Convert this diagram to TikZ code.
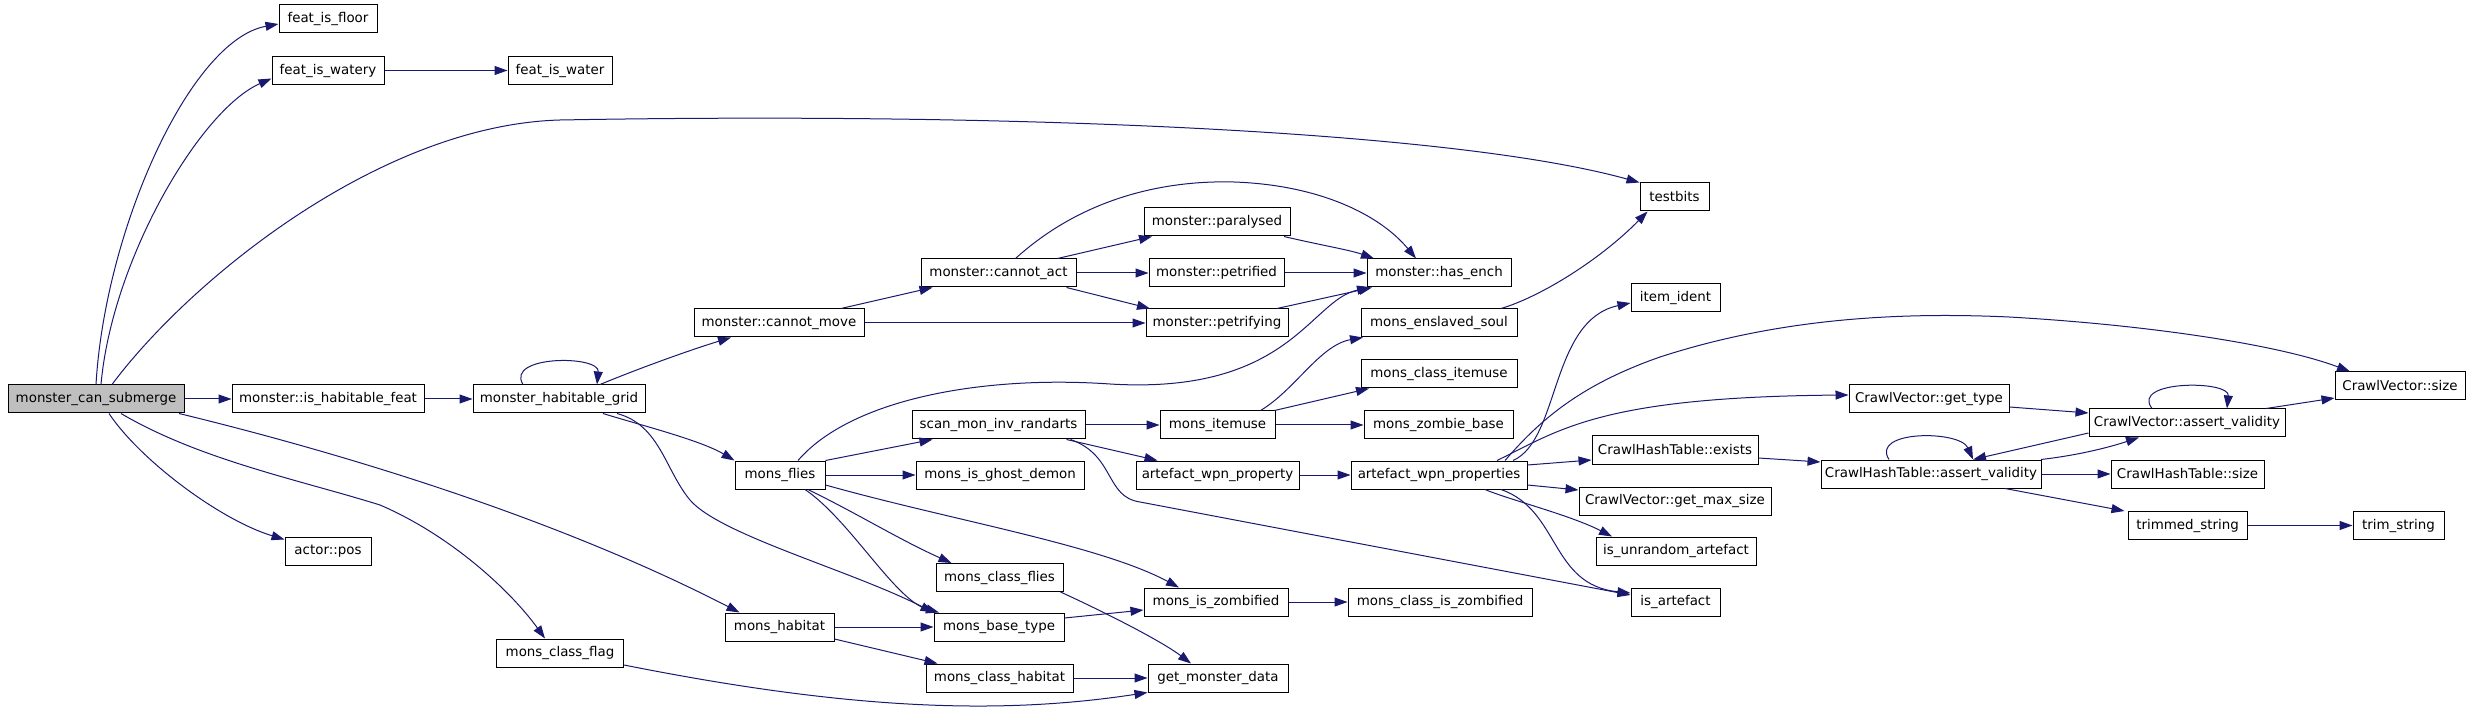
\documentclass[tikz,border=0pt]{standalone}
\usepackage{fontspec}
\usepackage{tikz}
\usetikzlibrary{arrows.meta}
\newfontfamily\graphfont{DejaVu Sans}
\definecolor{edgeblue}{HTML}{191970}
\definecolor{rootgray}{HTML}{BFBFBF}
\tikzset{
  fn/.style={draw=black, line width=1pt, minimum height=28, inner sep=0pt,
    font=\graphfont\fontsize{13.4}{15}\selectfont},
  root/.style={fn, fill=rootgray},
  call/.style={draw=edgeblue, line width=1pt, -{Triangle[length=13pt,width=9pt]}}
}
\begin{document}
\begin{tikzpicture}[x=1pt, y=-1pt]
\useasboundingbox (0,0) rectangle (2469,708);

\node[root, minimum width=176] (mcs) at (96,399) {monster\_can\_submerge};
\node[fn, minimum width=98] (floor) at (328,19) {feat\_is\_floor};
\node[fn, minimum width=112] (watery) at (328,70.5) {feat\_is\_watery};
\node[fn, minimum width=104] (water) at (560,70.5) {feat\_is\_water};
\node[fn, minimum width=192] (ihf) at (328,399) {monster::is\_habitable\_feat};
\node[fn, minimum width=172] (hgrid) at (559,399) {monster\_habitable\_grid};
\node[fn, minimum width=86] (apos) at (328,551) {actor::pos};
\node[fn, minimum width=127] (cflag) at (560,653) {mons\_class\_flag};
\node[fn, minimum width=170] (cmove) at (779,323) {monster::cannot\_move};
\node[fn, minimum width=155] (cact) at (998.5,273) {monster::cannot\_act};
\node[fn, minimum width=146] (para) at (1217,222) {monster::paralysed};
\node[fn, minimum width=135] (ptfd) at (1216.5,273) {monster::petrified};
\node[fn, minimum width=142] (ptfy) at (1217,323) {monster::petrifying};
\node[fn, minimum width=144] (hench) at (1439,273) {monster::has\_ench};
\node[fn, minimum width=173] (scan) at (998.5,425) {scan\_mon\_inv\_randarts};
\node[fn, minimum width=115] (itemuse) at (1217.5,425) {mons\_itemuse};
\node[fn, minimum width=90] (flies) at (780,475) {mons\_flies};
\node[fn, minimum width=168] (ghost) at (1000,475) {mons\_is\_ghost\_demon};
\node[fn, minimum width=163] (awp) at (1217.5,475) {artefact\_wpn\_property};
\node[fn, minimum width=127] (cflies) at (999.5,577.5) {mons\_class\_flies};
\node[fn, minimum width=144] (iszomb) at (1216,602) {mons\_is\_zombified};
\node[fn, minimum width=109] (habitat) at (779.5,627) {mons\_habitat};
\node[fn, minimum width=130] (btype) at (999,627) {mons\_base\_type};
\node[fn, minimum width=147] (chabitat) at (999.5,678) {mons\_class\_habitat};
\node[fn, minimum width=140] (gmd) at (1218,678) {get\_monster\_data};
\node[fn, minimum width=69] (testbits) at (1674.5,197) {testbits};
\node[fn, minimum width=156] (eslave) at (1439,323) {mons\_enslaved\_soul};
\node[fn, minimum width=156] (citemuse) at (1439,374) {mons\_class\_itemuse};
\node[fn, minimum width=149] (zbase) at (1438.5,425) {mons\_zombie\_base};
\node[fn, minimum width=176] (awps) at (1439,475) {artefact\_wpn\_properties};
\node[fn, minimum width=184] (czomb) at (1440,602) {mons\_class\_is\_zombified};
\node[fn, minimum width=89] (ident) at (1675.5,298) {item\_ident};
\node[fn, minimum width=166] (exists) at (1675,450) {CrawlHashTable::exists};
\node[fn, minimum width=192] (maxsize) at (1675,501) {CrawlVector::get\_max\_size};
\node[fn, minimum width=160] (unrand) at (1676,551) {is\_unrandom\_artefact};
\node[fn, minimum width=89] (isart) at (1675.5,602) {is\_artefact};
\node[fn, minimum width=160] (cvtype) at (1929,399) {CrawlVector::get\_type};
\node[fn, minimum width=220] (chtvalid) at (1931,474) {CrawlHashTable::assert\_validity};
\node[fn, minimum width=196] (cvvalid) at (2187,423) {CrawlVector::assert\_validity};
\node[fn, minimum width=130] (cvsize) at (2400,386) {CrawlVector::size};
\node[fn, minimum width=153] (chtsize) at (2187.5,474) {CrawlHashTable::size};
\node[fn, minimum width=119] (trimmed) at (2187.5,525.5) {trimmed\_string};
\node[fn, minimum width=91] (trim) at (2398.5,525.5) {trim\_string};

\draw[call] (mcs.north) .. controls (105,230) and (190,40) .. ([yshift=-5]floor.west);
\draw[call] ([xshift=5]mcs.north) .. controls (112,260) and (200,110) .. ([yshift=-8]watery.west);
\draw[call] (watery) -- (water);
\draw[call] ([xshift=16]mcs.north) .. controls (190,280) and (380,125) .. (560,120)
  .. controls (1000,112) and (1450,130) .. (testbits.north west);
\draw[call] (mcs) -- (ihf);
\draw[call] ([xshift=13]mcs.south) .. controls (140,460) and (220,520) .. ([yshift=-3]apos.north west);
\draw[call] ([xshift=25]mcs.south) .. controls (200,460) and (300,480) .. (380,505)
  .. controls (450,535) and (510,590) .. ([xshift=-15]cflag.north);
\draw[call] ([xshift=83]mcs.south) .. controls (350,455) and (560,520) .. ([xshift=-40]habitat.north);
\draw[call] (ihf) -- (hgrid);
\draw[call] ([xshift=-36]hgrid.north) .. controls (505,355) and (600,355) .. ([xshift=38]hgrid.north);
\draw[call] ([xshift=41]hgrid.north) .. controls (640,368) and (690,350) .. ([xshift=-48]cmove.south);
\draw[call] ([xshift=44]hgrid.south) .. controls (640,425) and (700,440) .. (flies.north west);
\draw[call] ([xshift=58]hgrid.south) .. controls (660,425) and (665,470) .. (690,500)
  .. controls (720,535) and (850,570) .. (btype.north west);
\draw[call] ([xshift=62]cmove.north) -- ([xshift=-66]cact.south);
\draw[call] (cmove) -- (ptfy);
\draw[call] ([xshift=59]cact.north) -- ([xshift=-65]para.south);
\draw[call] (cact) -- (ptfd);
\draw[call] ([xshift=68]cact.south) -- ([xshift=-67]ptfy.north);
\draw[call] ([xshift=17]cact.north) .. controls (1080,200) and (1160,180) .. (1234,182)
  .. controls (1320,185) and (1380,215) .. ([xshift=-23]hench.north);
\draw[call] ([xshift=67]para.south) .. controls (1320,245) and (1350,250) .. ([xshift=-65]hench.north);
\draw[call] (ptfd) -- (hench);
\draw[call] ([xshift=60]ptfy.north) -- ([xshift=-67]hench.south);
\draw[call] ([xshift=18]flies.north) .. controls (850,400) and (980,375) .. (1110,384)
  .. controls (1290,395) and (1310,300) .. ([xshift=-69]hench.south);
\draw[call] (flies.north east) -- ([xshift=-66]scan.south);
\draw[call] (flies) -- (ghost);
\draw[call] ([xshift=28]flies.south) .. controls (860,515) and (900,540) .. ([xshift=-48]cflies.north);
\draw[call] ([xshift=25]flies.south) .. controls (850,520) and (895,600) .. ([xshift=-60]btype.north);
\draw[call] ([yshift=-10]flies.east) .. controls (950,520) and (1100,545) .. ([xshift=-37]iszomb.north);
\draw[call] (scan) -- (itemuse);
\draw[call] ([xshift=68]scan.south) -- ([xshift=-60]awp.north);
\draw[call] ([xshift=72]scan.south) .. controls (1115,455) and (1105,497) .. (1140,502)
  -- ([yshift=7]isart.west);
\draw[call] ([xshift=43]itemuse.north) .. controls (1295,390) and (1320,345) .. ([xshift=-76]eslave.south);
\draw[call] ([xshift=57]itemuse.north) -- ([xshift=-70]citemuse.south);
\draw[call] (itemuse) -- (zbase);
\draw[call] ([xshift=62]eslave.north) .. controls (1540,297) and (1600,260) .. ([xshift=-27]testbits.south);
\draw[call] (awp) -- (awps);
\draw[call] ([xshift=74]awps.north) .. controls (1560,440) and (1550,320) .. ([yshift=-5]ident.west);
\draw[call] ([xshift=66]awps.north) .. controls (1540,420) and (1580,385) .. (1660,357)
  .. controls (1780,318) and (1900,312) .. (2009,317)
  .. controls (2150,325) and (2280,345) .. ([xshift=-50]cvsize.north);
\draw[call] ([xshift=58]awps.north) .. controls (1560,430) and (1600,397) .. ([yshift=4]cvtype.west);
\draw[call] ([yshift=10]awps.east) -- ([yshift=-10]exists.west);
\draw[call] ([yshift=-10]awps.east) -- ([yshift=11]maxsize.west);
\draw[call] ([xshift=46]awps.south) .. controls (1510,500) and (1570,515) .. ([xshift=-64]unrand.north);
\draw[call] ([xshift=62]awps.south) .. controls (1560,510) and (1550,585) .. ([yshift=9]isart.west);
\draw[call] ([yshift=-8]exists.east) -- ([yshift=12]chtvalid.west);
\draw[call] ([xshift=-42]chtvalid.north) .. controls (1870,430) and (1960,430) .. ([xshift=42]chtvalid.north);
\draw[call] ([xshift=110]chtvalid.north) .. controls (2080,455) and (2110,447) .. ([xshift=-48]cvvalid.south);
\draw[call] ([yshift=-10]cvvalid.west) -- ([xshift=42]chtvalid.north);
\draw[call] (chtvalid) -- (chtsize);
\draw[call] ([xshift=74]chtvalid.south) -- ([xshift=-63]trimmed.north);
\draw[call] (trimmed) -- (trim);
\draw[call] ([yshift=-8]cvtype.east) -- ([yshift=10]cvvalid.west);
\draw[call] ([xshift=-35]cvvalid.north) .. controls (2130,380) and (2230,380) .. ([xshift=40]cvvalid.north);
\draw[call] ([xshift=79]cvvalid.north) -- ([yshift=-12]cvsize.west);
\draw[call] ([xshift=61]cflies.south) .. controls (1100,610) and (1160,640) .. ([xshift=-27]gmd.north);
\draw[call] (habitat) -- (btype);
\draw[call] ([yshift=-12]habitat.east) -- ([xshift=-62]chabitat.north);
\draw[call] ([yshift=9]btype.east) -- ([yshift=-8]iszomb.west);
\draw[call] (iszomb) -- (czomb);
\draw[call] (chabitat) -- (gmd);
\draw[call] ([yshift=-12]cflag.east) .. controls (850,710) and (1000,715) .. (gmd.south west);
\end{tikzpicture}
\end{document}
